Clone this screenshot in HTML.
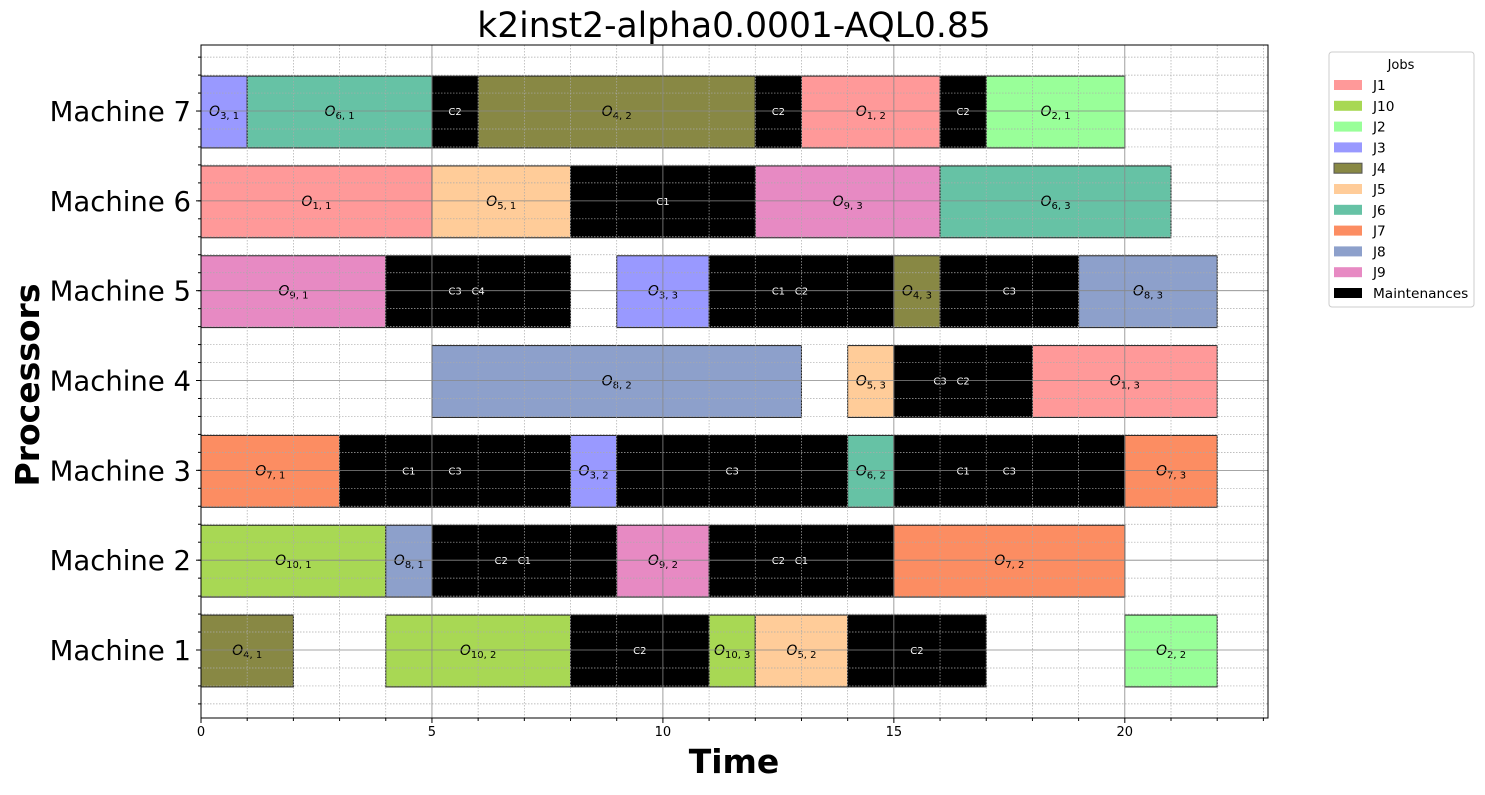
<!DOCTYPE html>
<html><head><meta charset="utf-8"><style>
body{margin:0;background:#fff}
svg{font-family:"DejaVu Sans","Liberation Sans",sans-serif}
</style></head><body>
<svg id="c" width="1485" height="790"></svg>
<script>
const machines=["Machine 1","Machine 2","Machine 3","Machine 4","Machine 5","Machine 6","Machine 7"];
const jobNames=["J1","J10","J2","J3","J4","J5","J6","J7","J8","J9","Maintenances"];
const jobColors=["#ff9999","#a8d854","#99ff99","#9999ff","#888844","#ffcc99","#66c2a5","#fc8d62","#8da0cb","#e78ac3","#000000"];
// [machine index(1-based), start, end, job key, op label]
const tasks=[
[7,0,1,"J3","3,1"],[7,1,5,"J6","6,1"],[7,5,6,"M",""],[7,6,12,"J4","4,2"],[7,12,13,"M",""],[7,13,16,"J1","1,2"],[7,16,17,"M",""],[7,17,20,"J2","2,1"],
[6,0,5,"J1","1,1"],[6,5,8,"J5","5,1"],[6,8,12,"M",""],[6,12,16,"J9","9,3"],[6,16,21,"J6","6,3"],
[5,0,4,"J9","9,1"],[5,4,8,"M",""],[5,9,11,"J3","3,3"],[5,11,15,"M",""],[5,15,16,"J4","4,3"],[5,16,19,"M",""],[5,19,22,"J8","8,3"],
[4,5,13,"J8","8,2"],[4,14,15,"J5","5,3"],[4,15,18,"M",""],[4,18,22,"J1","1,3"],
[3,0,3,"J7","7,1"],[3,3,8,"M",""],[3,8,9,"J3","3,2"],[3,9,14,"M",""],[3,14,15,"J6","6,2"],[3,15,20,"M",""],[3,20,22,"J7","7,3"],
[2,0,4,"J10","10,1"],[2,4,5,"J8","8,1"],[2,5,9,"M",""],[2,9,11,"J9","9,2"],[2,11,15,"M",""],[2,15,20,"J7","7,2"],
[1,0,2,"J4","4,1"],[1,4,8,"J10","10,2"],[1,8,11,"M",""],[1,11,12,"J10","10,3"],[1,12,14,"J5","5,2"],[1,14,17,"M",""],[1,20,22,"J2","2,2"]
];
// maintenance labels [machine, x, text]
const mLabels=[[7,5.5,"C2"],[7,12.5,"C2"],[7,16.5,"C2"],[6,10,"C1"],[5,5.5,"C3"],[5,6,"C4"],[5,12.5,"C1"],[5,13,"C2"],[5,17.5,"C3"],
[4,16,"C3"],[4,16.5,"C2"],[3,4.5,"C1"],[3,5.5,"C3"],[3,11.5,"C3"],[3,16.5,"C1"],[3,17.5,"C3"],
[2,6.5,"C2"],[2,7,"C1"],[2,12.5,"C2"],[2,13,"C1"],[1,9.5,"C2"],[1,15.5,"C2"]];
const xTicks=[0,5,10,15,20];
const L=201,R=1268,T=45,B=718;
const xmin=0,xmax=23.1,ymin=0.243,ymax=7.735;
const X=v=>L+(v-xmin)/(xmax-xmin)*(R-L);
const Y=v=>B-(v-ymin)/(ymax-ymin)*(B-T);
const NS="http://www.w3.org/2000/svg";
const svg=document.getElementById('c');
function mk(tag,attrs,parent){const e=document.createElementNS(NS,tag);for(const k in attrs)e.setAttribute(k,attrs[k]);(parent||svg).appendChild(e);return e;}
const col=k=>k==="M"?"#000":jobColors[jobNames.indexOf(k)];
for(const t of tasks){
  const r=mk('rect',{x:X(t[1]),y:Y(t[0]+0.4)+1,width:X(t[2])-X(t[1]),height:Y(t[0]-0.4)-Y(t[0]+0.4),fill:col(t[3]),stroke:"#222","stroke-width":1});
  
  
  if(t[4]){
    const [a,b]=t[4].split(',');
    const tx=mk('text',{x:(X(t[1])+X(t[2]))/2,y:Y(t[0])+5,"text-anchor":"middle","font-size":13,fill:"#000"});
    
    
    const s1=mk('tspan',{"font-style":"italic","font-size":14},tx);s1.textContent="O";
    const s2=mk('tspan',{"font-size":10,dy:3},tx);s2.textContent=a+", "+b;
  }
}
for(const m of mLabels){
  const tx=mk('text',{x:X(m[1]),y:Y(m[0])+4,"text-anchor":"middle","font-size":10,fill:"#fff"});
  tx.textContent=m[2];
  
  
}
const g=mk('g',{});


for(let v=0;v<=23;v++){if(v%5)mk('line',{x1:X(v),x2:X(v),y1:T,y2:B,stroke:"#aaa","stroke-width":0.7,"stroke-dasharray":"1.5,1.5"},g);}
for(let i=1;i<=38;i++){const v=0.2*i;if(v<ymin||v>ymax)continue;if(Math.abs(v-Math.round(v))<0.01)continue;mk('line',{x1:L,x2:R,y1:Y(v),y2:Y(v),stroke:"#aaa","stroke-width":0.7,"stroke-dasharray":"1.5,1.5"},g);}
for(const v of xTicks)mk('line',{x1:X(v),x2:X(v),y1:T,y2:B,stroke:"#888","stroke-width":0.8},g);
for(let i=1;i<=7;i++)mk('line',{x1:L,x2:R,y1:Y(i),y2:Y(i),stroke:"#888","stroke-width":0.8},g);
const ax=mk('rect',{x:L,y:T,width:R-L,height:B-T,fill:"none",stroke:"#000","stroke-width":1});


for(const v of xTicks){mk('line',{x1:X(v),x2:X(v),y1:B,y2:B+5,stroke:"#000"});
  const t=mk('text',{x:X(v),y:B+18,"text-anchor":"middle","font-size":13});t.textContent=v;
  }
for(let v=0;v<=23;v++)if(v%5)mk('line',{x1:X(v),x2:X(v),y1:B,y2:B+3,stroke:"#000"});
for(let i=1;i<=38;i++){const v=0.2*i;if(v<ymin||v>ymax)continue;mk('line',{x1:L-3,x2:L,y1:Y(v),y2:Y(v),stroke:"#000"});}
machines.forEach((m,i)=>{mk('line',{x1:L-5,x2:L,y1:Y(i+1),y2:Y(i+1),stroke:"#000"});
  const t=mk('text',{x:L-10,y:Y(i+1)+10,"text-anchor":"end","font-size":27.5});t.textContent=m;
  });
let t=mk('text',{x:734,y:37,"text-anchor":"middle","font-size":34.5});t.textContent="k2inst2-alpha0.0001-AQL0.85";

t=mk('text',{x:734,y:773,"text-anchor":"middle","font-size":33,"font-weight":"bold"});t.textContent="Time";

t=mk('text',{x:0,y:0,"text-anchor":"middle","font-size":33,"font-weight":"bold",transform:"translate(39,385) rotate(-90)"});t.textContent="Processors";

const lg=mk('g',{});


mk('rect',{x:1329,y:52,width:145,height:255,rx:3,fill:"#fff",stroke:"#ccc"},lg);
t=mk('text',{x:1401,y:69,"text-anchor":"middle","font-size":13},lg);t.textContent="Jobs";
jobNames.forEach((n,i)=>{const y=85+i*20.8;
  mk('rect',{x:1334,y:y-5,width:28,height:10,fill:jobColors[i],stroke:i===4?"#555":"none"},lg);
  const tt=mk('text',{x:1373,y:y+5,"font-size":13.7},lg);tt.textContent=n;
  });
</script>
</body></html>
